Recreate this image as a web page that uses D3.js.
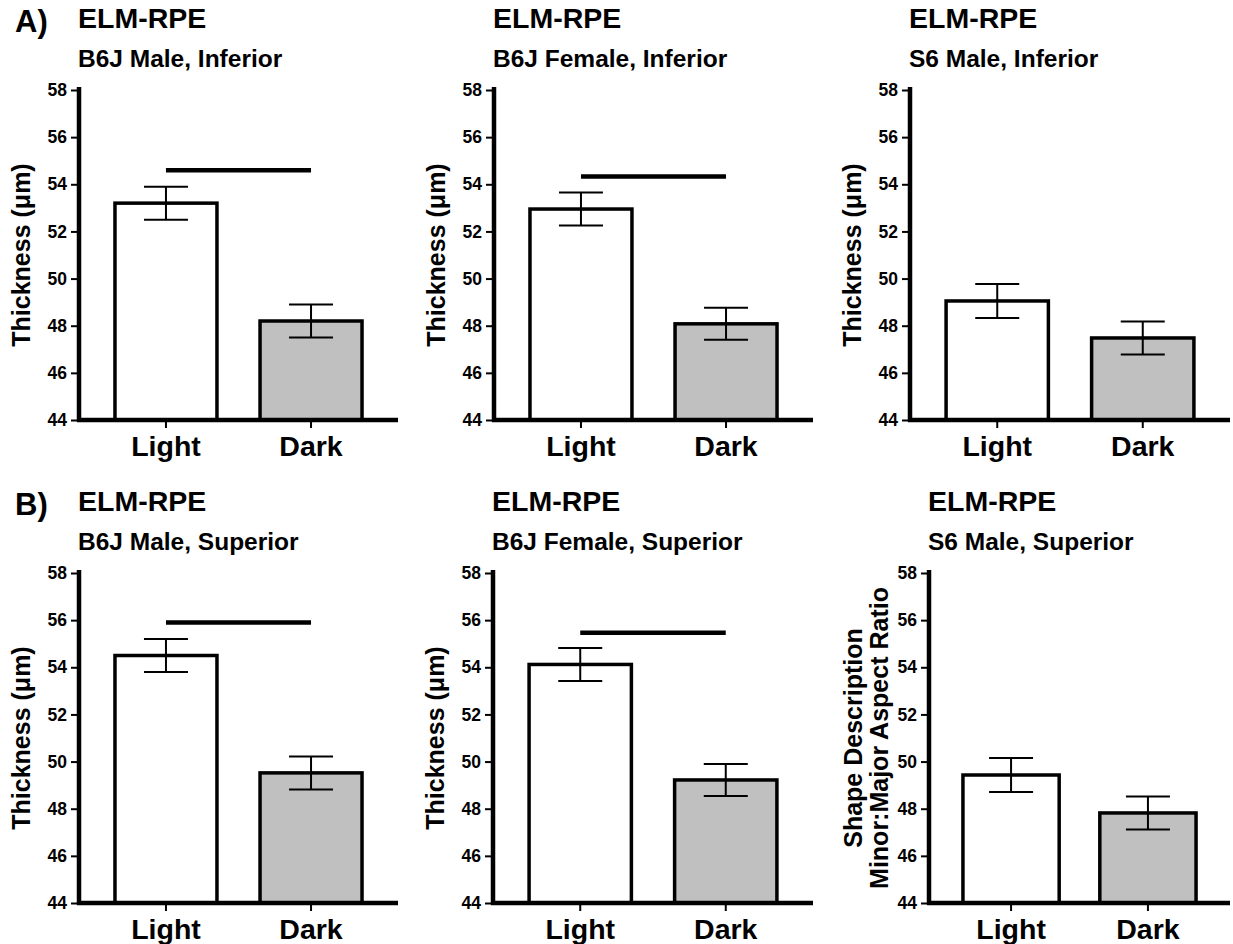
<!DOCTYPE html>
<html>
<head>
<meta charset="utf-8">
<script src="https://cdn.jsdelivr.net/npm/d3@7"></script>
<style>
  body { margin: 0; background: #fff; }
  svg { display: block; }
  text { font-family: "Liberation Sans", Arial, sans-serif; font-weight: bold; fill: #000; }
</style>
</head>
<body>
<svg id="chart" width="1233" height="944"></svg>
<script>
// ---- data ----
const categories = ["Light", "Dark"];
const panelLetters = ["A)", "", "", "B)", "", ""];
const titles = ["ELM-RPE", "ELM-RPE", "ELM-RPE", "ELM-RPE", "ELM-RPE", "ELM-RPE"];
const subtitles = ["B6J Male, Inferior", "B6J Female, Inferior", "S6 Male, Inferior",
                   "B6J Male, Superior", "B6J Female, Superior", "S6 Male, Superior"];
const yLabels = [["Thickness (μm)"], ["Thickness (μm)"], ["Thickness (μm)"],
                 ["Thickness (μm)"], ["Thickness (μm)"], ["Shape Description", "Minor:Major Aspect Ratio"]];
const lightMeans = [53.2, 52.95, 49.05, 54.5, 54.12, 49.43];
const lightSEM   = [0.70, 0.70, 0.72, 0.70, 0.70, 0.72];
const darkMeans  = [48.2, 48.08, 47.48, 49.52, 49.22, 47.82];
const darkSEM    = [0.70, 0.68, 0.70, 0.70, 0.68, 0.70];
const sigLevels  = [54.6, 54.33, null, 55.9, 55.47, null];
const yTicks = [44, 46, 48, 50, 52, 54, 56, 58];
const yDomain = [44, 58];

// ---- layout ----
const panelX = [79, 494, 910, 79, 493, 929];
const panelY = [90, 90, 90, 573, 573, 573];
const panelW = [319, 319, 320, 319, 320, 301];
const plotH = 330;
const fills = ["#ffffff", "#c0c0c0"];

const svg = d3.select("#chart");

for (let i = 0; i < 6; i++) {
  const g = svg.append("g").attr("transform", `translate(${panelX[i]},${panelY[i]})`);
  const W = panelW[i];
  const y = d3.scaleLinear().domain(yDomain).range([plotH, 0]);
  const x = d3.scaleBand().domain(categories).range([0, W]).paddingInner(0.297).paddingOuter(0.248);

  // titles
  if (panelLetters[i]) {
    g.append("text").attr("x", 15 - panelX[i]).attr("y", -58)
      .style("font-size", "31px").text(panelLetters[i]);
  }
  g.append("text").attr("x", -1).attr("y", -62).style("font-size", "28.5px").text(titles[i]);
  g.append("text").attr("x", -1).attr("y", -23).style("font-size", "24.5px").text(subtitles[i]);

  // bars
  const means = [lightMeans[i], darkMeans[i]];
  const sems = [lightSEM[i], darkSEM[i]];
  const data = categories.map((c, k) => ({c, m: means[k], e: sems[k], f: fills[k]}));
  const bw = x.bandwidth();
  g.selectAll("rect.bar").data(data).enter().append("rect")
    .attr("class", "bar")
    .attr("x", d => x(d.c))
    .attr("y", d => y(d.m))
    .attr("width", bw)
    .attr("height", d => y(yDomain[0]) - y(d.m))
    .attr("fill", d => d.f)
    .attr("stroke", "#000").attr("stroke-width", 3.5);

  // error bars
  const eb = g.selectAll("g.eb").data(data).enter().append("g").attr("class", "eb");
  eb.append("line")
    .attr("x1", d => x(d.c) + bw / 2).attr("x2", d => x(d.c) + bw / 2)
    .attr("y1", d => y(d.m + d.e)).attr("y2", d => y(d.m - d.e))
    .attr("stroke", "#000").attr("stroke-width", 2);
  [1, -1].forEach(s => {
    eb.append("line")
      .attr("x1", d => x(d.c) + bw / 2 - 22).attr("x2", d => x(d.c) + bw / 2 + 22)
      .attr("y1", d => y(d.m + s * d.e)).attr("y2", d => y(d.m + s * d.e))
      .attr("stroke", "#000").attr("stroke-width", 2);
  });

  // significance line
  if (sigLevels[i] !== null) {
    g.append("line")
      .attr("x1", x(categories[0]) + bw / 2).attr("x2", x(categories[1]) + bw / 2)
      .attr("y1", y(sigLevels[i])).attr("y2", y(sigLevels[i]))
      .attr("stroke", "#000").attr("stroke-width", 4.5);
  }

  // y axis
  const ya = g.append("g").call(d3.axisLeft(y).tickValues(yTicks).tickSize(8).tickSizeOuter(0).tickPadding(4));
  ya.select(".domain").attr("stroke-width", 4.5).attr("d", `M0,${plotH + 2}V-3`);
  ya.selectAll(".tick line").attr("stroke-width", 2);
  ya.selectAll(".tick text").style("font-size", "17.5px").style("font-family", "Liberation Sans, Arial, sans-serif").style("font-weight", "bold");

  // x axis
  const xa = g.append("g").attr("transform", `translate(0,${plotH})`)
    .call(d3.axisBottom(x).tickSize(8).tickSizeOuter(0).tickPadding(8));
  xa.select(".domain").attr("stroke-width", 4.5).attr("d", `M-2,0H${W}`);
  xa.selectAll(".tick line").attr("stroke-width", 2);
  xa.selectAll(".tick text").style("font-size", "28.5px").style("font-family", "Liberation Sans, Arial, sans-serif").style("font-weight", "bold");

  // y label
  const lines = yLabels[i];
  const offs = lines.length === 1 ? [-49] : [-67, -41];
  lines.forEach((t, k) => {
    g.append("text")
      .attr("transform", `translate(${offs[k]},${plotH / 2}) rotate(-90)`)
      .attr("text-anchor", "middle")
      .style("font-size", "25px")
      .text(t);
  });
}
</script>
</body>
</html>
